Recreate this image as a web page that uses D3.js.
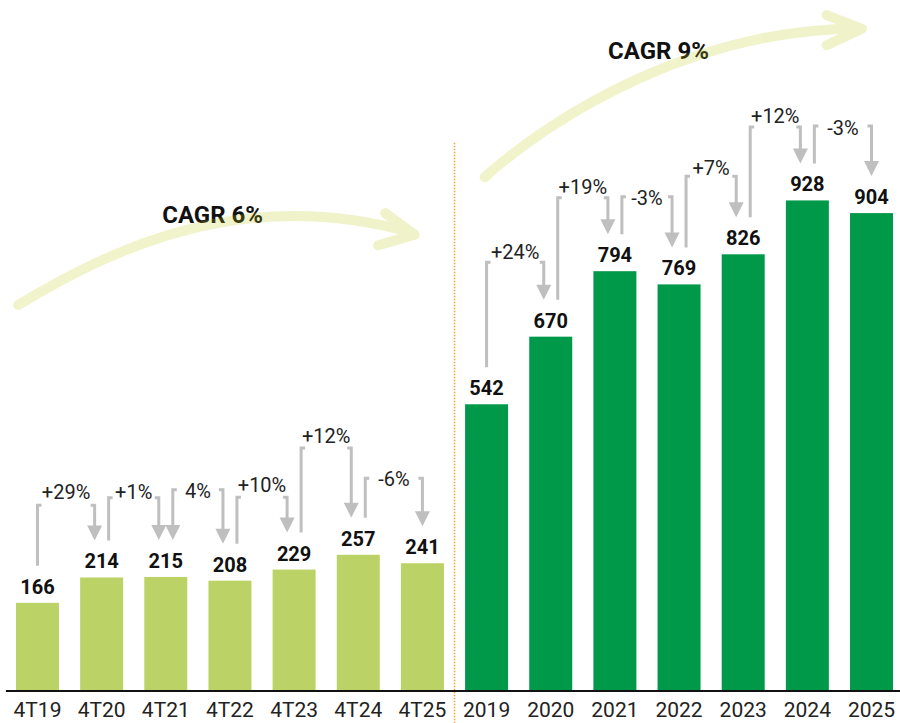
<!DOCTYPE html>
<html>
<head>
<meta charset="utf-8">
<script src="https://cdn.jsdelivr.net/npm/d3@7"></script>
<style>
  body { margin: 0; background: #fff; }
  svg { display: block; font-family: Roboto, "Noto Sans", sans-serif; }
</style>
</head>
<body>
<div id="container"></div>
<script>
"use strict";

// data
const categories = ["4T19", "4T20", "4T21", "4T22", "4T23", "4T24", "4T25",
  "2019", "2020", "2021", "2022", "2023", "2024", "2025"];
const values = [166, 214, 215, 208, 229, 257, 241, 542, 670, 794, 769, 826, 928, 904];
const periodType = ["q", "q", "q", "q", "q", "q", "q", "y", "y", "y", "y", "y", "y", "y"];

// change from bar i to bar i+1 (null = no connector)
const changeLabels = ["+29%", "+1%", "4%", "+10%", "+12%", "-6%", null,
  "+24%", "+19%", "-3%", "+7%", "+12%", "-3%"];
// level (value units) of the connector tops and of the labels
const bracketTops = [351, 365, 380, 366, 459, 402, null, 811, 933, 935, 974, 1067, 1069];
const labelLevels = [376, 376, 377, 389, 481, 400, null, 831, 954, 933, 989, 1088, 1065];
const doubleHeaded = [false, false, true, false, false, false, false,
  false, false, false, false, false, false];

const cagrLabels = ["CAGR 6%", "CAGR 9%"];

const width = 900;
const height = 723;
const baseY = 690.5;

const qColor = "#bbd366";
const yColor = "#00994a";
const greyLine = "#bfbfbf";

const svg = d3.select("#container")
  .append("svg")
  .attr("width", width)
  .attr("height", height);

const x = d3.scaleBand()
  .domain(categories)
  .range([5.4, 903.6])
  .paddingInner(0.33)
  .paddingOuter(0.165);

const y = d3.scaleLinear()
  .domain([0, 1300])
  .range([baseY, baseY - 1300 * 0.5281]);

const cx = (i) => x(categories[0]) + x.bandwidth() / 2 + i * x.step();
const pt = (i, v) => [cx(i), y(v)];

// divider between quarters and years
svg.append("line")
  .attr("x1", cx(6.5)).attr("x2", cx(6.5))
  .attr("y1", y(1037)).attr("y2", height)
  .attr("stroke", "#f2a93b")
  .attr("stroke-width", 1.6)
  .attr("stroke-dasharray", "1.5,1.5");

// bars
svg.selectAll("rect.bar")
  .data(values)
  .join("rect")
  .attr("class", "bar")
  .attr("x", (d, i) => x(categories[i]))
  .attr("y", (d) => y(d))
  .attr("width", x.bandwidth())
  .attr("height", (d) => baseY - y(d))
  .attr("fill", (d, i) => (periodType[i] === "q" ? qColor : yColor));

// value labels
svg.selectAll("text.val")
  .data(values)
  .join("text")
  .attr("class", "val")
  .attr("x", (d, i) => cx(i))
  .attr("y", (d) => y(d) - 9)
  .attr("text-anchor", "middle")
  .style("font-size", "20px")
  .style("font-weight", "700")
  .style("fill", "#111")
  .text((d) => d);

// axis
const xAxis = d3.axisBottom(x).tickSize(0).tickSizeOuter(0).tickPadding(11.6);
const axisG = svg.append("g")
  .attr("transform", `translate(0, ${baseY})`)
  .call(xAxis);
axisG.select(".domain").attr("stroke", "#111").attr("stroke-width", 2);
axisG.selectAll("text")
  .style("font-size", "21px")
  .style("font-family", "Roboto, sans-serif")
  .style("fill", "#222");

// connectors
const conn = svg.append("g");
const arrowHead = (xt, yt) =>
  `M${xt - 7.5},${yt - 15} L${xt + 7.5},${yt - 15} L${xt},${yt} Z`;

changeLabels.forEach((lab, k) => {
  if (!lab) return;
  const a = k;
  const b = k + 1;
  const hasIn = a > 0 && changeLabels[a - 1];
  const hasOut = b < changeLabels.length && changeLabels[b];
  const x1 = cx(a) + (hasIn ? 7 : 0);
  const x2 = cx(b) - (hasOut ? 7 : 0);
  const ya = y(values[a]) - 37;
  const yb = y(values[b]) - 37;
  const top = y(bracketTops[k]);

  const yaEnd = doubleHeaded[k] ? ya - 13 : ya;
  conn.append("path")
    .attr("d", `M${x1},${yaEnd} L${x1},${top} L${x1 + 4},${top}`)
    .attr("fill", "none")
    .attr("stroke", greyLine)
    .attr("stroke-width", 3);
  if (doubleHeaded[k]) {
    conn.append("path").attr("d", arrowHead(x1, ya)).attr("fill", greyLine);
  }
  conn.append("path")
    .attr("d", `M${x2 - 4},${top} L${x2},${top} L${x2},${yb - 13}`)
    .attr("fill", "none")
    .attr("stroke", greyLine)
    .attr("stroke-width", 3);
  conn.append("path").attr("d", arrowHead(x2, yb)).attr("fill", greyLine);

  conn.append("text")
    .attr("x", (x1 + x2) / 2)
    .attr("y", y(labelLevels[k]) + 7)
    .attr("text-anchor", "middle")
    .style("font-size", "20px")
    .style("fill", "#222")
    .text(lab);
});

// CAGR labels
const cagrPos = [[2.73, 885], [9.68, 1195]];
cagrLabels.forEach((t, i) => {
  const [px, py] = pt(cagrPos[i][0], cagrPos[i][1]);
  svg.append("text")
    .attr("x", px)
    .attr("y", py)
    .attr("text-anchor", "middle")
    .style("font-size", "24px")
    .style("font-weight", "700")
    .style("fill", "#111")
    .text(t);
});

// CAGR arrows, drawn translucent over the labels
const arcs = [
  { curve: [[-0.30, 730], [1.13, 834], [3.16, 957], [5.81, 868]],
    head: [[5.42, 904], [5.88, 863], [5.31, 843]] },
  { curve: [[6.97, 972], [8.14, 1099], [10.33, 1253], [12.79, 1253]],
    head: [[12.30, 1279], [12.85, 1253], [12.30, 1222]] }
];
arcs.forEach((a) => {
  const c = a.curve.map((p) => pt(p[0], p[1]));
  const h = a.head.map((p) => pt(p[0], p[1]));
  const g = svg.append("g").attr("opacity", 0.22);
  g.append("path")
    .attr("d", `M${c[0]} C${c[1]} ${c[2]} ${c[3]}`)
    .attr("fill", "none")
    .attr("stroke", "rgb(190,200,20)")
    .attr("stroke-width", 10)
    .attr("stroke-linecap", "round");
  g.append("path")
    .attr("d", `M${h[0]} L${h[1]} L${h[2]}`)
    .attr("fill", "none")
    .attr("stroke", "rgb(190,200,20)")
    .attr("stroke-width", 10)
    .attr("stroke-linecap", "round")
    .attr("stroke-linejoin", "round");
});
</script>
</body>
</html>
